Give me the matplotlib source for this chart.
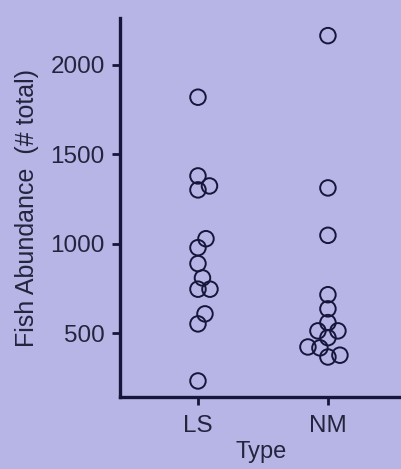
import numpy as np
import matplotlib
matplotlib.use("Agg")
import matplotlib.pyplot as plt

# Fish abundance by habitat type
categories = ["LS", "NM"]
ls_values = [1819, 1379, 1301, 1323, 978, 1028, 889, 809, 746, 746, 608, 552, 233]
nm_values = [2163, 1312, 1047, 715, 636, 559, 513, 513, 475, 423, 418, 377, 367]
y_ticks = [500, 1000, 1500, 2000]

bg = "#b7b5e5"
ink = "#16163c"
text_col = "#24243e"

plt.rcParams["font.family"] = ["Liberation Sans", "DejaVu Sans"]


def swarm_offsets(ax, x0, vals, diam):
    # simple greedy beeswarm in pixel space
    pts = ax.transData.transform(np.column_stack([np.full(len(vals), x0), vals]))
    ys = pts[:, 1]
    cx = pts[0, 0]
    steps = np.arange(0.5, 80, 0.5)
    cands = [0.0]
    for s in steps:
        cands += [s, -s]
    placed = []
    xs = np.zeros(len(vals))
    for i in np.argsort(ys):
        for off in cands:
            if all((off - px) ** 2 + (ys[i] - py) ** 2 >= diam ** 2 for px, py in placed):
                break
        placed.append((off, ys[i]))
        xs[i] = off
    back = ax.transData.inverted().transform(np.column_stack([cx + xs, ys]))
    return back[:, 0]


fig = plt.figure(figsize=(4.02, 4.69), dpi=100, facecolor=bg)
ax = fig.add_axes([0.2985, 0.153, 0.7015, 0.808])
ax.set_facecolor(bg)
ax.set_xlim(0.4, 2.57)
ax.set_ylim(142, 2260)

for k, vals in enumerate([ls_values, nm_values]):
    xs = swarm_offsets(ax, k + 1, vals, 12)
    ax.scatter(xs, vals, s=125, facecolors="none", edgecolors=ink, linewidths=1.4, zorder=3)

ax.set_xticks([1, 2])
ax.set_xticklabels(categories)
ax.set_yticks(y_ticks)
ax.tick_params(axis="both", direction="out", length=6, width=2, color=ink,
               labelsize=17.5, labelcolor=text_col, pad=5)
ax.tick_params(axis="x", pad=7)

for side in ["top", "right"]:
    ax.spines[side].set_visible(False)
for side in ["left", "bottom"]:
    ax.spines[side].set_linewidth(2.4)
    ax.spines[side].set_color(ink)

ax.set_xlabel("Type", fontsize=17, color=text_col, labelpad=3)
ax.set_ylabel("Fish Abundance  (# total)", fontsize=18, color=text_col, labelpad=8)

fig.savefig("out.png", dpi=100, facecolor=bg)
